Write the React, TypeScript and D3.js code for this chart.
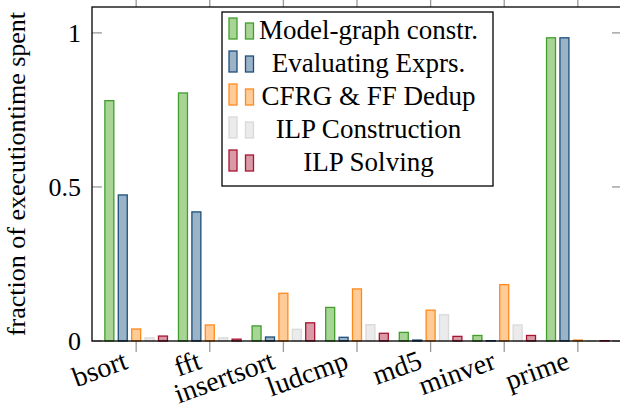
import React from 'react';
import * as d3 from 'd3';

// benchmarks on the x axis
const categories = ['bsort', 'fft', 'insertsort', 'ludcmp', 'md5', 'minver', 'prime'];

// one array per phase, in category order
const modelGraph = [0.78, 0.805, 0.049, 0.109, 0.028, 0.018, 0.984];
const evalExprs = [0.474, 0.419, 0.013, 0.012, 0.003, 0.001, 0.984];
const cfrgDedup = [0.039, 0.052, 0.155, 0.169, 0.1, 0.183, 0.003];
const ilpConstr = [0.01, 0.01, 0.038, 0.053, 0.085, 0.052, 0.001];
const ilpSolving = [0.016, 0.006, 0.059, 0.025, 0.015, 0.018, 0.001];

const seriesNames = ['Model-graph constr.', 'Evaluating Exprs.', 'CFRG & FF Dedup', 'ILP Construction', 'ILP Solving'];
const yTicks = [0, 0.5, 1];

const strokes = ['#3f9e2c', '#1d4e79', '#ff8a1c', '#d9d9d9', '#a8132f'];
const fills = ['#a8d496', '#9bb3c7', '#ffcc98', '#ebebeb', '#d99aa7'];

const font = '"Liberation Serif", "Times New Roman", serif';

export default function App() {
  const width = 620, height = 412;
  const box = { left: 92, right: 622, top: 7, bottom: 341 };

  const series = [modelGraph, evalExprs, cfrgDedup, ilpConstr, ilpSolving];

  const x = d3.scalePoint<string>()
    .domain(categories)
    .range([box.left, box.right])
    .padding(0.6);

  const inner = d3.scaleBand<number>()
    .domain(d3.range(series.length))
    .range([-31.3, 31.3])
    .paddingInner(0.33)
    .paddingOuter(0);

  const y = d3.scaleLinear()
    .domain([0, 1.084])
    .range([box.bottom, box.top]);

  // legend geometry
  const lg = { x: 222, y: 12, w: 271, h: 174, rowH: 33, firstBase: 39, textX: 368.5 };

  return (
    <svg width={width} height={height} style={{ position: 'absolute', left: 0, top: 0 }}
      fontFamily={font}>
      <rect x={0} y={0} width={width} height={height} fill="#fff" />

      {/* bars */}
      {series.map((vals, s) => (
        <g key={s}>
          {vals.map((v, i) => (
            <rect key={i}
              x={x(categories[i])! + inner(s)!}
              y={y(v)}
              width={inner.bandwidth()}
              height={box.bottom - y(v)}
              fill={fills[s]} stroke={strokes[s]} strokeWidth={1.3} />
          ))}
        </g>
      ))}

      {/* x ticks, bottom and top */}
      {categories.map(c => (
        <g key={c}>
          <line x1={x(c)} x2={x(c)} y1={box.bottom} y2={box.bottom + 11} stroke="#999" strokeWidth={1.3} />
          <line x1={x(c)} x2={x(c)} y1={box.top} y2={box.top - 10} stroke="#999" strokeWidth={1.3} />
          <text transform={`translate(${x(c)! - 7},${box.bottom + 27}) rotate(-20)`}
            textAnchor="end" fontSize={28}>{c}</text>
        </g>
      ))}

      {/* y ticks */}
      {yTicks.map(t => (
        <g key={t}>
          <line x1={box.left} x2={box.left + 10} y1={y(t)} y2={y(t)} stroke="#999" strokeWidth={1.3} />
          <line x1={box.right - 10} x2={box.right} y1={y(t)} y2={y(t)} stroke="#999" strokeWidth={1.3} />
          <text x={box.left - 11} y={y(t)} dy="0.35em" textAnchor="end" fontSize={26}>{t}</text>
        </g>
      ))}

      {/* frame */}
      <rect x={box.left} y={box.top} width={box.right - box.left} height={box.bottom - box.top}
        fill="none" stroke="#000" strokeWidth={1.3} />

      <text transform={`translate(25,${(box.top + box.bottom) / 2}) rotate(-90)`}
        textAnchor="middle" fontSize={26}>fraction of executiontime spent</text>

      {/* legend */}
      <rect x={lg.x} y={lg.y} width={lg.w} height={lg.h} fill="#fff" stroke="#000" strokeWidth={1.3} />
      {seriesNames.map((name, s) => {
        const base = lg.firstBase + s * lg.rowH;
        return (
          <g key={name}>
            <rect x={229} y={base - 21} width={8} height={21} fill={fills[s]} stroke={strokes[s]} strokeWidth={1.3} />
            <rect x={245.5} y={base - 16} width={8} height={16} fill={fills[s]} stroke={strokes[s]} strokeWidth={1.3} />
            <text x={lg.textX} y={base} textAnchor="middle" fontSize={27}>{name}</text>
          </g>
        );
      })}
    </svg>
  );
}
